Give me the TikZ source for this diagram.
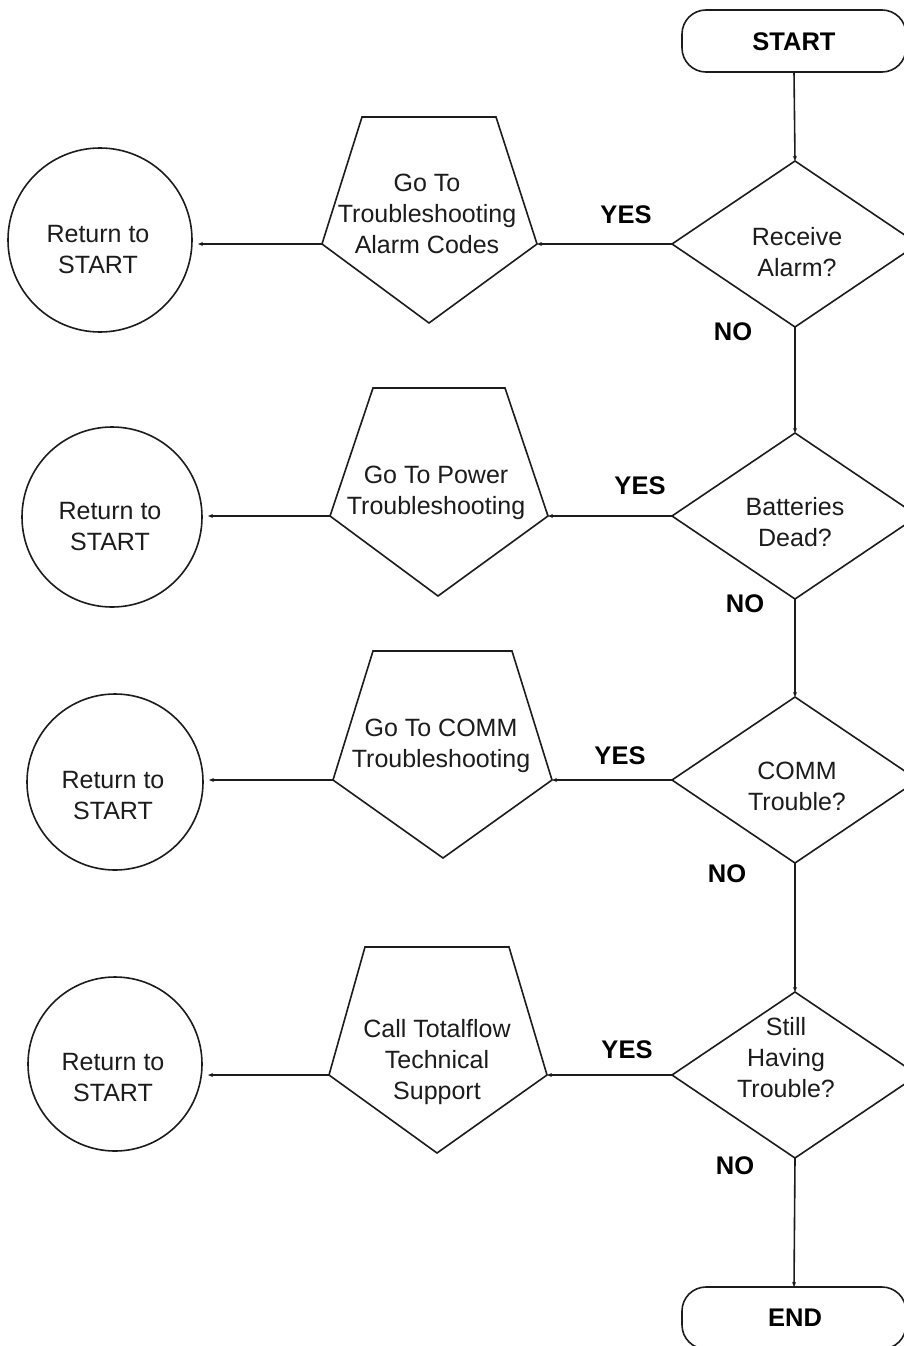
\documentclass[tikz,border=0pt]{standalone}
\usepackage{fontspec}
\setmainfont{Liberation Sans}
\usetikzlibrary{arrows.meta,shapes.geometric}
\definecolor{ink}{HTML}{1C1C1C}
\begin{document}
\begin{tikzpicture}[x=1pt,y=-1pt,
  every node/.style={inner sep=0pt,outer sep=0pt},
  shp/.style={draw=ink,line width=1.6pt},
  txt/.style={align=center,text=ink,font=\fontsize{25}{31}\selectfont},
  lbl/.style={text=black,font=\fontsize{25.5}{28}\selectfont\bfseries},
  dec/.style={shp,diamond,minimum width=246pt,minimum height=166pt},
  ret/.style={shp,circle},
  term/.style={shp,rectangle,rounded corners=24pt,minimum width=224pt,minimum height=62pt},
  arr/.style={draw=ink,line width=1.6pt,-{Stealth[length=5pt,width=4pt]}}]
\useasboundingbox (0,0) rectangle (904,1346);
\clip (0,0) rectangle (904,1346);
\fill[white] (0,0) rectangle (904,1346);

% terminals
\node[term] (start) at (794,41) {};
\node[lbl] (startt) at (794,42) {START};
\node[term] (end) at (794,1318) {};
\node[lbl] (endt) at (795,1318) {END};

% decisions
\node[dec] (d1) at (795,244) {};
\node[txt] (d1t) at (797,252) {Receive\\Alarm?};
\node[dec] (d2) at (795,516) {};
\node[txt] (d2t) at (795,522) {Batteries\\Dead?};
\node[dec] (d3) at (795,780) {};
\node[txt] (d3t) at (797,786) {COMM\\Trouble?};
\node[dec] (d4) at (795,1075) {};
\node[txt] (d4t) at (786,1058) {Still\\Having\\Trouble?};

% pentagons (off-page connectors)
\coordinate (p1l) at (322,244); \coordinate (p1r) at (537,244);
\draw[shp] (362,117) -- (496,117) -- (p1r) -- (429,323) -- (p1l) -- cycle;
\node[txt] (p1t) at (427,214) {Go To\\Troubleshooting\\Alarm Codes};

\coordinate (p2l) at (330,516); \coordinate (p2r) at (548,516);
\draw[shp] (373,388) -- (505,388) -- (p2r) -- (438,596) -- (p2l) -- cycle;
\node[txt] (p2t) at (436,493) {Go To Power\\Troubleshooting};

\coordinate (p3l) at (333,780); \coordinate (p3r) at (552,780);
\draw[shp] (373,651) -- (512,651) -- (p3r) -- (443,858) -- (p3l) -- cycle;
\node[txt] (p3t) at (441,746) {Go To COMM\\Troubleshooting};

\coordinate (p4l) at (329,1075); \coordinate (p4r) at (547,1075);
\draw[shp] (365,947) -- (509,947) -- (p4r) -- (437,1153) -- (p4l) -- cycle;
\node[txt] (p4t) at (437,1062) {Call Totalflow\\Technical\\Support};

% return circles
\node[ret,minimum size=184pt] (r1) at (100,240) {};
\node[txt] (r1t) at (98,250) {Return to\\START};
\node[ret,minimum size=180pt] (r2) at (112,517) {};
\node[txt] (r2t) at (110,527) {Return to\\START};
\node[ret,minimum size=176pt] (r3) at (115,782) {};
\node[txt] (r3t) at (113,796) {Return to\\START};
\node[ret,minimum size=174pt] (r4) at (115,1064) {};
\node[txt] (r4t) at (113,1078) {Return to\\START};

% main column
\draw[arr] (start.south) -- (d1.north);
\draw[arr] (d1.south) -- (d2.north);
\draw[arr] (d2.south) -- (d3.north);
\draw[arr] (d3.south) -- (d4.north);
\draw[arr] (d4.south) -- (end.north);

% yes branches
\draw[arr] (d1.west) -- (p1r);
\draw[arr] (d2.west) -- (p2r);
\draw[arr] (d3.west) -- (p3r);
\draw[arr] (d4.west) -- (p4r);

% to return circles
\draw[arr] (p1l) -- ([xshift=6pt]p1l -| r1.east);
\draw[arr] (p2l) -- ([xshift=6pt]p2l -| r2.east);
\draw[arr] (p3l) -- ([xshift=6pt]p3l -| r3.east);
\draw[arr] (p4l) -- ([xshift=6pt]p4l -| r4.east);

% labels
\node[lbl] (y1) at (626,215) {YES};
\node[lbl] (n1) at (733,332) {NO};
\node[lbl] (y2) at (640,486) {YES};
\node[lbl] (n2) at (745,604) {NO};
\node[lbl] (y3) at (620,756) {YES};
\node[lbl] (n3) at (727,874) {NO};
\node[lbl] (y4) at (627,1050) {YES};
\node[lbl] (n4) at (735,1166) {NO};
\end{tikzpicture}
\end{document}
